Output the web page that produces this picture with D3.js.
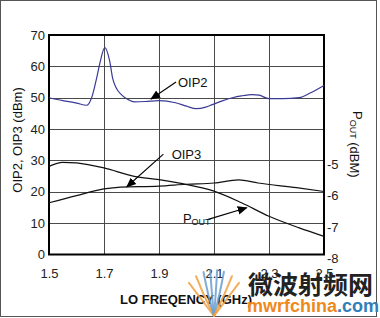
<!DOCTYPE html>
<meta charset="utf-8">
<style>
body { margin: 0; background: #fff; }
svg { display: block; }
.tick-label { font-family: "Liberation Sans Narrow", "Liberation Sans", Arial, sans-serif; font-size: 13px; fill: #222; }
.title { font-family: "Liberation Sans Narrow", "Liberation Sans", Arial, sans-serif; font-size: 13px; fill: #111; }
.grid { stroke: #4a4a4a; stroke-width: 1; shape-rendering: crispEdges; }
.line { fill: none; stroke-width: 1.2; }
</style>
<body></body>
<script src="https://d3js.org/d3.v7.min.js"></script>
<script>
// tick values
var freqTicks = [1.5, 1.7, 1.9, 2.1, 2.3, 2.5];
var leftTicks = [0, 10, 20, 30, 40, 50, 60, 70];
var rightTicks = [-5, -6, -7, -8];

// OIP2 (dBm) vs LO frequency (GHz)
var oip2Freq = [1.50, 1.55, 1.60, 1.637, 1.655, 1.675, 1.685, 1.703, 1.72, 1.732, 1.745, 1.763, 1.79, 1.81, 1.85, 1.90, 1.96, 2.00, 2.035, 2.07, 2.094, 2.13, 2.167, 2.20, 2.24, 2.264, 2.30, 2.35, 2.41, 2.45, 2.50];
var oip2Vals = [50.0, 49.1, 48.3, 47.6, 50.0, 57.0, 61.0, 66.0, 62.0, 56.0, 53.0, 51.0, 49.3, 48.7, 48.8, 49.1, 48.4, 47.3, 46.5, 47.0, 47.8, 49.0, 50.0, 50.6, 51.0, 50.8, 49.7, 49.7, 50.0, 51.5, 53.9];

// OIP3 (dBm)
var oip3Freq = [1.50, 1.60, 1.70, 1.76, 1.90, 2.00, 2.10, 2.19, 2.26, 2.40, 2.50];
var oip3Vals = [16.5, 18.8, 20.9, 21.5, 21.8, 22.4, 22.8, 23.8, 22.8, 21.3, 20.1];

// POUT (dBm), right axis
var poutFreq = [1.50, 1.55, 1.60, 1.70, 1.81, 1.90, 1.99, 2.10, 2.20, 2.30, 2.41, 2.50];
var poutVals = [-5.19, -5.06, -5.08, -5.24, -5.51, -5.61, -5.75, -5.98, -6.35, -6.78, -7.15, -7.42];

// annotation labels: text position and arrow start/tip in data units (left axis)
var notes = [
  {text: "OIP2", x: 1.969, y: 55.0, ax: 1.962, ay: 55.0, tx: 1.871, ty: 49.6},
  {text: "OIP3", x: 1.946, y: 32.0, ax: 1.916, ay: 32.0, tx: 1.783, ty: 21.6},
  {text: "P", sub: "OUT", x: 1.987, y: 9.95, ax: 2.079, ay: 11.2, tx: 2.219, ty: 14.9}
];

var W = 380, H = 318;
var margin = {top: 35, right: 56, bottom: 63.5, left: 49};
var width = W - margin.left - margin.right,
    height = H - margin.top - margin.bottom;

var svg = d3.select("body").append("svg")
    .attr("width", W)
    .attr("height", H);

// outer frame
svg.append("rect")
    .attr("x", 0.5).attr("y", 0.5)
    .attr("width", 376).attr("height", 316)
    .attr("fill", "none")
    .attr("stroke", "#555");

var defs = svg.append("defs");
defs.append("marker")
    .attr("id", "arrow")
    .attr("viewBox", "0 0 10 10")
    .attr("refX", 9).attr("refY", 5)
    .attr("markerWidth", 10).attr("markerHeight", 10)
    .attr("markerUnits", "userSpaceOnUse")
    .attr("orient", "auto")
  .append("path")
    .attr("d", "M0,0.8 L10,5 L0,9.2 Z")
    .attr("fill", "#000");

var g = svg.append("g")
    .attr("transform", "translate(" + margin.left + "," + margin.top + ")");

var x = d3.scaleLinear().domain([1.5, 2.5]).range([0, width]);
var y = d3.scaleLinear().domain([0, 70]).range([height, 0]);
var yR = d3.scaleLinear().domain([-8, -1]).range([height, 0]);

// grid
g.selectAll(".hgrid")
    .data(leftTicks.filter(function(d) { return d > 0 && d < 70; }))
  .enter().append("line")
    .attr("class", "grid")
    .attr("x1", 0).attr("x2", width)
    .attr("y1", function(d) { return Math.round(y(d)) + 0.5; })
    .attr("y2", function(d) { return Math.round(y(d)) + 0.5; });

g.selectAll(".vgrid")
    .data(freqTicks.slice(1, -1))
  .enter().append("line")
    .attr("class", "grid")
    .attr("y1", 0).attr("y2", height)
    .attr("x1", function(d) { return Math.round(x(d)) + 0.5; })
    .attr("x2", function(d) { return Math.round(x(d)) + 0.5; });

// axes (labels only, no tick marks)
var xAxis = g.append("g")
    .attr("transform", "translate(0," + height + ")")
    .call(d3.axisBottom(x).tickValues(freqTicks).tickSize(0).tickPadding(14).tickFormat(d3.format(".1f")));
var yAxis = g.append("g")
    .call(d3.axisLeft(y).tickValues(leftTicks).tickSize(0).tickPadding(4));
var yAxisR = g.append("g")
    .attr("transform", "translate(" + width + ",0)")
    .call(d3.axisRight(yR).tickValues(rightTicks).tickSize(0).tickPadding(3).tickFormat(d3.format("d")));

[xAxis, yAxis, yAxisR].forEach(function(a) {
  a.select(".domain").remove();
  a.selectAll("text").attr("class", "tick-label").attr("font-family", null).attr("font-size", null);
});
yAxisR.selectAll("text").attr("dy", "0.62em");
yAxisR.selectAll("text").text(function(d) { return "-" + Math.abs(d); });

// plot frame
g.append("rect")
    .attr("x", 0).attr("y", 0)
    .attr("width", width).attr("height", height)
    .attr("fill", "none")
    .attr("stroke", "#000")
    .attr("stroke-width", 2);

var line = d3.line()
    .x(function(d) { return x(d[0]); })
    .y(function(d) { return d[1]; })
    .curve(d3.curveMonotoneX);

g.append("path")
    .datum(d3.zip(oip2Freq, oip2Vals.map(function(v) { return y(v); })))
    .attr("class", "line")
    .attr("stroke", "#3a3a96")
    .attr("d", line);

g.append("path")
    .datum(d3.zip(oip3Freq, oip3Vals.map(function(v) { return y(v); })))
    .attr("class", "line")
    .attr("stroke", "#111")
    .attr("d", line);

g.append("path")
    .datum(d3.zip(poutFreq, poutVals.map(function(v) { return yR(v); })))
    .attr("class", "line")
    .attr("stroke", "#111")
    .attr("d", line);

// annotations
notes.forEach(function(n) {
  g.append("line")
      .attr("x1", x(n.ax)).attr("y1", y(n.ay))
      .attr("x2", x(n.tx)).attr("y2", y(n.ty))
      .attr("stroke", "#000")
      .attr("stroke-width", 1.1)
      .attr("marker-end", "url(#arrow)");
  var t = g.append("text")
      .attr("class", "title")
      .attr("x", x(n.x)).attr("y", y(n.y))
      .attr("dy", n.sub ? null : "0.35em")
      .text(n.text);
  if (n.sub) {
    t.append("tspan").attr("font-size", "9px").attr("dy", "1.5").text(n.sub);
  }
});

// axis titles
svg.append("text")
    .attr("class", "title")
    .attr("font-weight", "bold")
    .attr("font-size", "12px")
    .attr("text-anchor", "middle")
    .attr("x", 186).attr("y", 304)
    .text("LO FREQENCY (GHz)");

svg.append("text")
    .attr("class", "title")
    .attr("text-anchor", "middle")
    .attr("transform", "translate(22,140) rotate(-90)")
    .text("OIP2, OIP3 (dBm)");

var rt = svg.append("text")
    .attr("class", "title")
    .attr("transform", "translate(353,111) rotate(90)");
rt.append("tspan").text("P");
rt.append("tspan").attr("font-size", "9px").attr("dy", "3").text("OUT");
rt.append("tspan").text(" (dBM)");

// watermark
var wm = svg.append("g");
var fan = [[-44, "#f0a040"], [-30, "#f0a040"], [-17, "#6a9fd0"], [-6, "#6a9fd0"], [5, "#6a9fd0"], [16, "#6a9fd0"], [30, "#f0a040"], [44, "#f0a040"]];
fan.forEach(function(f) {
  var a = f[0] * Math.PI / 180;
  wm.append("path")
      .attr("d", "M" + 214 + "," + 316 + " Q" + (214 + Math.sin(a) * 20) + "," + (302 - Math.cos(a) * 6) + " " + (214 + Math.sin(a) * 36) + "," + (316 - Math.cos(a) * 46))
      .attr("fill", "none")
      .attr("stroke", f[1])
      .attr("stroke-width", 2)
      .attr("stroke-linecap", "round")
      .attr("opacity", 0.85);
});
wm.append("text")
    .attr("x", 248).attr("y", 294)
    .attr("font-family", "Noto Sans CJK SC")
    .attr("font-weight", "bold")
    .attr("font-size", "25px")
    .attr("fill", "#222")
    .text("微波射频网");
var wt = wm.append("text")
    .attr("x", 247).attr("y", 312)
    .attr("font-family", "Liberation Sans, Arial, sans-serif")
    .attr("font-weight", "bold")
    .attr("font-size", "18px");
wt.append("tspan").attr("fill", "#ee8a1c").text("mwrfchina");
wt.append("tspan").attr("fill", "#2f7fb8").text(".com");
</script>
